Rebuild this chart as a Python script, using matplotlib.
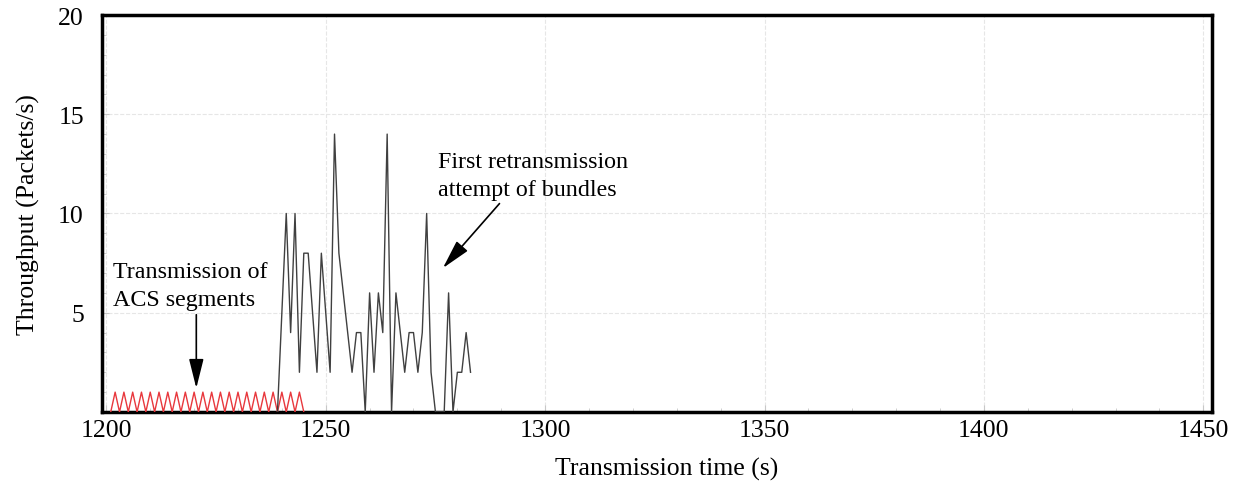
import numpy as np
import matplotlib
matplotlib.use('Agg')
import matplotlib.pyplot as plt
from matplotlib.ticker import MultipleLocator

plt.rcParams['font.family'] = ['Liberation Serif', 'DejaVu Serif']

# ACS segment transmission (red zigzag, 0/1 packets per second)
acs_time = np.arange(1201, 1246)
acs_tput = [0, 1] * 22 + [0]

# bundle retransmission (dark line)
bundle_time = [1239, 1241, 1242, 1243, 1244, 1245, 1246, 1248, 1249, 1251,
               1252, 1253, 1256, 1257, 1258, 1259, 1260, 1261, 1262, 1263,
               1264, 1265, 1266, 1268, 1269, 1270, 1271, 1272, 1273, 1274,
               1275, 1277, 1278, 1279, 1280, 1281, 1282, 1283]
bundle_tput = [0, 10, 4, 10, 2, 8, 8, 2, 8, 2,
               14, 8, 2, 4, 4, 0, 6, 2, 6, 4,
               14, 0, 6, 2, 4, 4, 2, 4, 10, 2,
               0, 0, 6, 0, 2, 2, 4, 2]

x_ticks = [1200, 1250, 1300, 1350, 1400, 1450]
y_ticks = [5, 10, 15, 20]

fig = plt.figure(figsize=(12.33, 4.85), dpi=100)
ax = fig.add_axes([0.0827, 0.1485, 0.9003, 0.8185])

ax.plot(acs_time, acs_tput, color='#e8383d', lw=1.0, zorder=3)
ax.plot(bundle_time, bundle_tput, color='#404040', lw=1.0, zorder=3)

ax.set_xlim(1199, 1452)
ax.set_ylim(0, 20)
ax.set_xticks(x_ticks)
ax.set_yticks(y_ticks)
ax.xaxis.set_minor_locator(MultipleLocator(10))
ax.yaxis.set_minor_locator(MultipleLocator(1))
ax.tick_params(which='both', direction='in', color='#c8c8c8', labelsize=18.5)
ax.tick_params(which='major', length=5, width=0.8)
ax.tick_params(which='minor', length=3, width=0.6)
ax.tick_params(axis='y', pad=13)
ax.tick_params(axis='x', pad=5)
ax.grid(True, which='major', color='#e6e6e6', ls='--', lw=0.8, zorder=0)

for s in ax.spines.values():
    s.set_linewidth(2.5)
    s.set_color('black')

ax.set_xlabel('Transmission time (s)', fontsize=18.5)
ax.xaxis.set_label_coords(0.509, -0.112)
ax.set_ylabel('Throughput (Packets/s)', fontsize=18.5, labelpad=13)

arrow = dict(arrowstyle='-|>,head_length=0.6,head_width=0.15', color='black',
             lw=1.2, mutation_scale=30, shrinkA=0, shrinkB=0)

ax.text(1201.6, 5.15, 'Transmission of\nACS segments', fontsize=17.3,
        ha='left', va='bottom', linespacing=1.4)
ax.annotate('', xy=(1220.5, 1.2), xytext=(1220.5, 4.9), arrowprops=arrow)

ax.text(1275.6, 10.7, 'First retransmission\nattempt of bundles', fontsize=17.3,
        ha='left', va='bottom', linespacing=1.4)
ax.annotate('', xy=(1276.7, 7.25), xytext=(1289.6, 10.5), arrowprops=arrow)

fig.savefig('out.png', dpi=100)
